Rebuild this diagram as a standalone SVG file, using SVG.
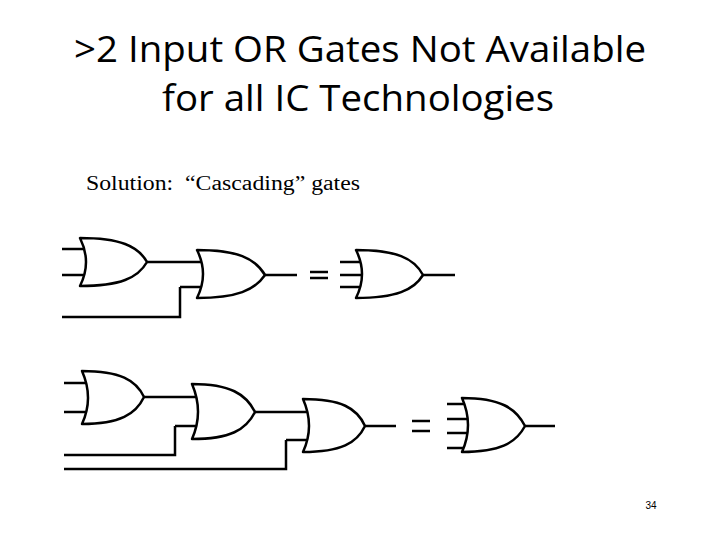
<svg xmlns="http://www.w3.org/2000/svg" width="720" height="540" viewBox="0 0 720 540">
<style>
.g{fill:#fff;stroke:#000;stroke-width:2.5;stroke-linejoin:round}
.w{fill:none;stroke:#000;stroke-width:2.5}
.t{font-family:"Open Sans","Liberation Sans",sans-serif;font-size:37px;text-anchor:middle}
</style>
<rect width="720" height="540" fill="#fff"/>
<text class="t" x="360" y="62" textLength="572" lengthAdjust="spacingAndGlyphs">&gt;2 Input OR Gates Not Available</text>
<text class="t" x="358" y="111" textLength="392" lengthAdjust="spacingAndGlyphs">for all IC Technologies</text>
<text x="86" y="190" font-family="Liberation Serif,serif" font-size="20" textLength="274" lengthAdjust="spacingAndGlyphs" xml:space="preserve">Solution:  “Cascading” gates</text>
<text x="651" y="509" font-family="Liberation Sans,sans-serif" font-size="10" text-anchor="middle">34</text>
<g id="connectors">
<path class="w" d="M62 249H84M62 275H84M147 262H202M180 287H202M180 287V317H62M265 275H297M310 272H328M310 278H328M340 262H360M340 275H361M340 287H360M423 275H455"/>
<path class="w" d="M64 383H86M64 412H86M144 397H197M175 426H197M175 426V455H64M255 412H308M286 440H308M286 440V469H64M365 426H396M412 421H430M412 431H430M447 404H466M447 419H467M447 433H467M447 448H466M525 426H555"/>
</g>
<g id="g1"><path class="g" d="M80 238C120 238 138 246 147 262C138 278 120 286 80 286Q92 262 80 238Z"/></g>
<g id="g2"><path class="g" d="M197 250C237 250 255 258 265 275C255 290 237 298 197 298Q209 274 197 250Z"/></g>
<g id="g3"><path class="g" d="M356 250C396 250 414 258 423 275C414 290 396 298 356 298Q368 274 356 250Z"/></g>
<g id="g4"><path class="g" d="M82 371C120 371 136 380 144 397C136 414 120 424 82 424Q94 398 82 371Z"/></g>
<g id="g5"><path class="g" d="M192 384C230 384 246 394 255 412C246 430 230 439 192 439Q204 412 192 384Z"/></g>
<g id="g6"><path class="g" d="M303 399C341 399 357 408 365 426C357 443 341 452 303 452Q315 426 303 399Z"/></g>
<g id="g7"><path class="g" d="M462 398C500 398 516 408 525 426C516 443 500 452 462 452Q474 425 462 398Z"/></g>
</svg>
